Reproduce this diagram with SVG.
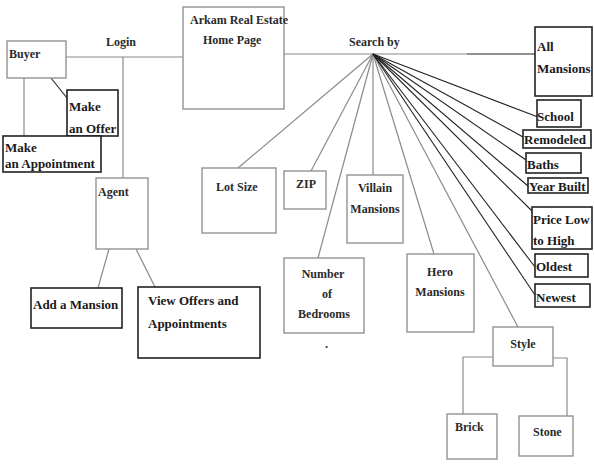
<svg xmlns="http://www.w3.org/2000/svg" width="594" height="467" viewBox="0 0 594 467">
<style>
text{font-family:"Liberation Serif","DejaVu Serif",serif;fill:#1a1a1a}
.n{font-size:12px;font-weight:bold;fill:#2a2a2a}
.b{font-size:13px;font-weight:bold}
.gb{fill:#fff;stroke:#8a8a8a;stroke-width:1.3}
.kb{fill:#fff;stroke:#222;stroke-width:1.6}
.g{stroke:#8a8a8a;stroke-width:1.2;fill:none}
.k{stroke:#222;stroke-width:1.1;fill:none}
.c{text-anchor:middle}
</style>
<rect width="594" height="467" fill="#fff"/>
<g id="connectors">
<line class="g" x1="66" y1="57" x2="183" y2="57"/>
<line class="g" x1="123" y1="57" x2="123" y2="178"/>
<line class="g" x1="284" y1="54" x2="467" y2="54"/>
<line class="k" x1="467" y1="54" x2="535" y2="54"/>
<line class="k" x1="51" y1="78" x2="67" y2="98"/>
<line class="g" x1="24" y1="78" x2="24" y2="136"/>
<line class="g" x1="109" y1="249" x2="98" y2="288"/>
<line class="g" x1="136" y1="249" x2="155" y2="287"/>
<line class="g" x1="373" y1="54" x2="238" y2="168"/>
<line class="g" x1="373" y1="54" x2="311" y2="171"/>
<line class="g" x1="373" y1="54" x2="318" y2="258"/>
<line class="g" x1="373" y1="54" x2="373" y2="175"/>
<line class="g" x1="373" y1="54" x2="434" y2="254"/>
<line class="g" x1="373" y1="54" x2="518" y2="327"/>
<line class="k" x1="373" y1="54" x2="538" y2="117"/>
<line class="k" x1="373" y1="54" x2="523" y2="137"/>
<line class="k" x1="373" y1="54" x2="526" y2="160"/>
<line class="k" x1="373" y1="54" x2="528" y2="186"/>
<line class="k" x1="373" y1="54" x2="532" y2="211"/>
<line class="k" x1="373" y1="54" x2="535" y2="267"/>
<line class="k" x1="373" y1="54" x2="535" y2="295"/>
<polyline class="g" points="493,357 463,357 463,414"/>
<polyline class="g" points="553,358 567,358 567,416"/>
</g>
<g id="buyer"><rect class="gb" x="7" y="41" width="59" height="37"/><text class="n" x="9" y="58">Buyer</text></g>
<text class="n" x="106" y="46">Login</text>
<g id="home"><rect class="gb" x="183" y="7" width="101" height="102"/><text class="n" x="190" y="24">Arkam Real Estate</text><text class="n" x="203" y="44">Home Page</text></g>
<text class="n" x="349" y="46">Search by</text>
<g id="offer"><rect class="kb" x="67" y="90" width="51" height="46"/><text class="b" x="69" y="111">Make</text><text class="b" x="69" y="133">an Offer</text></g>
<g id="appointment"><rect class="kb" x="3" y="136" width="98" height="36"/><text class="b" x="5" y="152">Make</text><text class="b" x="5" y="168">an Appointment</text></g>
<g id="agent"><rect class="gb" x="96" y="178" width="52" height="71"/><text class="n" x="98" y="196">Agent</text></g>
<g id="addmansion"><rect class="kb" x="31" y="288" width="91" height="40"/><text class="b" x="33" y="309">Add a Mansion</text></g>
<g id="viewoffers"><rect class="kb" x="138" y="287" width="122" height="71"/><text class="b" x="148" y="305">View Offers and</text><text class="b" x="148" y="328">Appointments</text></g>
<g id="lotsize"><rect class="gb" x="202" y="168" width="74" height="65"/><text class="n" x="216" y="191">Lot Size</text></g>
<g id="zip"><rect class="gb" x="284" y="171" width="42" height="38"/><text class="n" x="296" y="188">ZIP</text></g>
<g id="villain"><rect class="gb" x="347" y="175" width="56" height="68"/><text class="n c" x="375" y="192">Villain</text><text class="n c" x="375" y="213">Mansions</text></g>
<g id="bedrooms"><rect class="gb" x="284" y="258" width="80" height="75"/><text class="n c" x="323" y="278">Number</text><text class="n c" x="327" y="298">of</text><text class="n c" x="324" y="318">Bedrooms</text></g>
<text class="n" x="325" y="348">.</text>
<g id="hero"><rect class="gb" x="407" y="254" width="67" height="78"/><text class="n c" x="440" y="276">Hero</text><text class="n c" x="440" y="296">Mansions</text></g>
<g id="style"><rect class="gb" x="493" y="327" width="60" height="39"/><text class="n c" x="523" y="348">Style</text></g>
<g id="brick"><rect class="gb" x="447" y="414" width="50" height="45"/><text class="n" x="455" y="431">Brick</text></g>
<g id="stone"><rect class="gb" x="519" y="416" width="54" height="40"/><text class="n" x="533" y="436">Stone</text></g>
<g id="allmansions"><rect class="kb" x="535" y="27" width="57" height="69"/><text class="b" x="537" y="51">All</text><text class="b" x="537" y="73">Mansions</text></g>
<g id="school"><rect class="kb" x="537" y="100" width="44" height="27"/><text class="b" x="537" y="121">School</text></g>
<g id="remodeled"><rect class="kb" x="523" y="130" width="68" height="18"/><text class="b" x="524" y="144">Remodeled</text></g>
<g id="baths"><rect class="kb" x="526" y="153" width="55" height="20"/><text class="b" x="527" y="169">Baths</text></g>
<g id="yearbuilt"><rect class="kb" x="528" y="178" width="60" height="15"/><text class="b" x="529" y="191">Year Built</text></g>
<g id="price"><rect class="kb" x="532" y="207" width="60" height="42"/><text class="b" x="533" y="224">Price Low</text><text class="b" x="533" y="245">to High</text></g>
<g id="oldest"><rect class="kb" x="535" y="254" width="53" height="23"/><text class="b" x="536" y="271">Oldest</text></g>
<g id="newest"><rect class="kb" x="535" y="284" width="55" height="23"/><text class="b" x="536" y="302">Newest</text></g>
</svg>
